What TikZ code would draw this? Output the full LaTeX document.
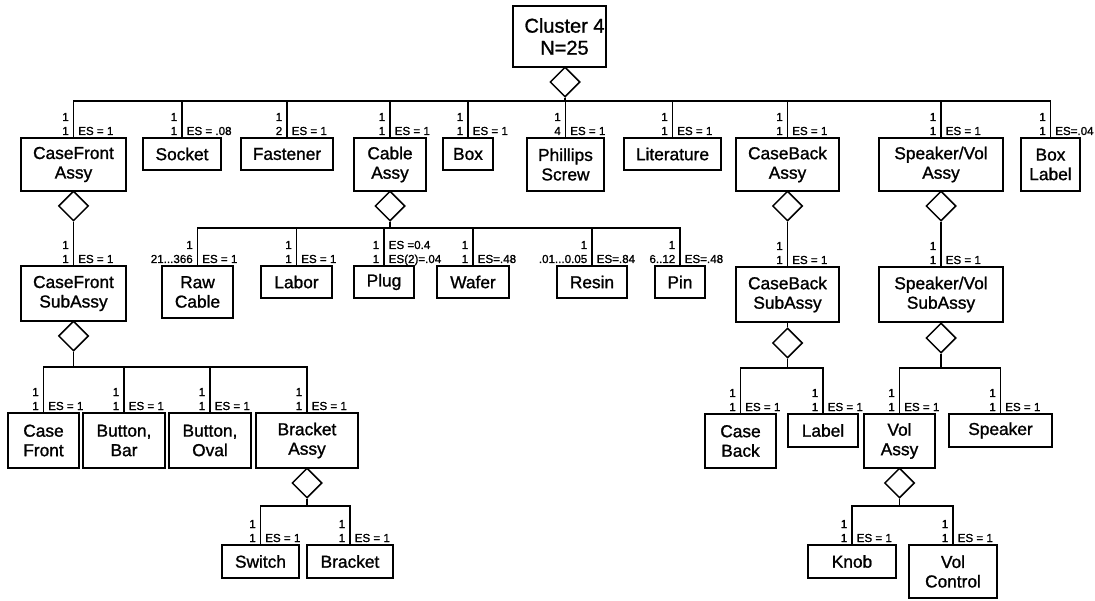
\documentclass[tikz,border=0pt]{standalone}
\usepackage{fontspec}
\setmainfont{Liberation Sans}
\newfontfamily\partfont[FakeBold=1.2]{Liberation Sans}
\newfontfamily\qtyfont[FakeBold=1.2]{Liberation Sans}
\usetikzlibrary{shapes.geometric}

% a part box given by its left, top, right and bottom edges
\newcommand\partbox[6]{%
  \node[part, minimum width={#4-#2}, minimum height={#5-#3}]
    (#1) at ({(#2+#4)/2},{(#3+#5)/2}) {#6};}
% quantity labels beside a branch line at x = #2, above a box whose top is #3
\newcommand\qtylabels[7]{%
  \node[qty, anchor=base east] (#1ul) at ({#2-4},{#3-17}) {#4};
  \node[qty, anchor=base east] (#1ll) at ({#2-4},{#3-3}) {#5};
  \node[qty, anchor=base west] (#1ur) at ({#2+4},{#3-17}) {#6};
  \node[qty, anchor=base west] (#1lr) at ({#2+4},{#3-3}) {#7};}

\begin{document}
\begin{tikzpicture}[x=1pt, y=-1pt, line width=1.5pt,
  part/.style={draw, align=center, inner sep=0pt,
    font=\partfont\fontsize{17.3}{19.5}\selectfont},
  rootbox/.style={draw, inner sep=0pt, minimum width=93pt, minimum height=61pt},
  roottext/.style={align=center, inner sep=0pt, font=\partfont\fontsize{20}{22}\selectfont},
  joint/.style={draw, diamond, inner sep=0pt, minimum width=30pt, minimum height=30pt},
  qty/.style={inner sep=0pt, font=\qtyfont\fontsize{11.6}{13}\selectfont}]

\fill[white] (0,0) rectangle (1095,601);
\useasboundingbox (0,0) rectangle (1095,601);

% ---- root -------------------------------------------------------------
\node[rootbox] (root) at (559.5,36.5) {};
\node[roottext] (rootlabel) at (564.5,36.5) {Cluster 4\\N=25};
\node[joint] (jroot) at (565,82) {};

% ---- first level ------------------------------------------------------
\partbox{cfa}{21}{138}{126}{191}{CaseFront\\Assy}
\partbox{sock}{143}{138}{221}{170}{Socket}
\partbox{fast}{241}{138}{333}{170}{Fastener}
\partbox{cab}{354}{138}{426}{191}{Cable\\Assy}
\partbox{box}{443}{138}{493}{170}{Box}
\partbox{phil}{527}{138}{604}{191}{Phillips\\Screw}
\partbox{lit}{624}{138}{721}{170}{Literature}
\partbox{cba}{736}{138}{839}{191}{CaseBack\\Assy}
\partbox{spa}{879}{138}{1003}{191}{Speaker/Vol\\Assy}
\partbox{bl}{1021}{138}{1080}{191}{Box\\Label}

\coordinate (bar0) at (0,101);
\draw (root.south -| jroot.north) -- (jroot.north);
\foreach \c in {cfa,sock,fast,cab,box,phil,lit,cba,spa,bl}
  \draw (jroot.south) -- (jroot.south |- bar0) -| (\c.north);

\qtylabels{cfa}{73.5}{138}{1}{1}{}{ES = 1}
\qtylabels{sock}{182}{138}{1}{1}{}{ES = .08}
\qtylabels{fast}{287}{138}{1}{2}{}{ES = 1}
\qtylabels{cab}{390}{138}{1}{1}{}{ES = 1}
\qtylabels{box}{468}{138}{1}{1}{}{ES = 1}
\qtylabels{phil}{565.5}{138}{1}{4}{}{ES = 1}
\qtylabels{lit}{672.5}{138}{1}{1}{}{ES = 1}
\qtylabels{cba}{787.5}{138}{1}{1}{}{ES = 1}
\qtylabels{spa}{941}{138}{1}{1}{}{ES = 1}
\qtylabels{bl}{1050.5}{138}{1}{1}{}{ES=.04}

% ---- cable assembly ---------------------------------------------------
\node[joint] (jcab) at (390,206) {};
\draw (cab.south) -- (jcab.north);
\partbox{raw}{162}{266}{233}{318}{Raw\\Cable}
\partbox{lab}{261}{266}{332}{298}{Labor}
\partbox{plug}{354}{266}{414}{298}{Plug}
\partbox{waf}{437}{266}{509}{298}{Wafer}
\partbox{res}{557}{266}{627}{298}{Resin}
\partbox{pin}{655}{266}{705}{298}{Pin}
\coordinate (barcab) at (0,228);
\foreach \c in {raw,lab,plug,waf,res,pin}
  \draw (jcab.south) -- (jcab.south |- barcab) -| (\c.north);
\qtylabels{raw}{197.5}{266}{1}{21...366}{}{ES = 1}
\qtylabels{lab}{296.5}{266}{1}{1}{}{ES = 1}
\qtylabels{plug}{384}{266}{1}{1}{ES =0.4}{ES(2)=.04}
\qtylabels{waf}{473}{266}{1}{1}{}{ES=.48}
\qtylabels{res}{592}{266}{1}{.01...0.05}{}{ES=.84}
\qtylabels{pin}{680}{266}{1}{6..12}{}{ES=.48}

% ---- case front -------------------------------------------------------
\node[joint] (jcfa) at (73.5,206) {};
\draw (cfa.south) -- (jcfa.north);
\partbox{cfs}{21}{266}{126}{321}{CaseFront\\SubAssy}
\draw (jcfa.south) -- (cfs.north);
\qtylabels{cfs}{73.5}{266}{1}{1}{}{ES = 1}

\node[joint] (jcfs) at (73.5,336) {};
\draw (cfs.south) -- (jcfs.north);
\partbox{cf}{8}{413}{79}{468}{Case\\Front}
\partbox{bb}{83}{413}{165}{468}{Button,\\Bar}
\partbox{bo}{169}{413}{251}{468}{Button,\\Oval}
\partbox{bra}{256}{413}{358}{468}{Bracket\\Assy}
\coordinate (barcfs) at (0,367);
\foreach \c in {cf,bb,bo,bra}
  \draw (jcfs.south) -- (jcfs.south |- barcfs) -| (\c.north);
\qtylabels{cf}{43.5}{413}{1}{1}{}{ES = 1}
\qtylabels{bb}{124}{413}{1}{1}{}{ES = 1}
\qtylabels{bo}{210}{413}{1}{1}{}{ES = 1}
\qtylabels{bra}{307}{413}{1}{1}{}{ES = 1}

\node[joint] (jbra) at (307,483) {};
\draw (bra.south) -- (jbra.north);
\partbox{sw}{222}{545}{299}{578}{Switch}
\partbox{brk}{307}{545}{393}{578}{Bracket}
\coordinate (barbra) at (0,506);
\foreach \c in {sw,brk}
  \draw (jbra.south) -- (jbra.south |- barbra) -| (\c.north);
\qtylabels{sw}{260.5}{545}{1}{1}{}{ES = 1}
\qtylabels{brk}{350}{545}{1}{1}{}{ES = 1}

% ---- case back --------------------------------------------------------
\node[joint] (jcba) at (787.5,206) {};
\draw (cba.south) -- (jcba.north);
\partbox{cbs}{736}{267}{839}{322}{CaseBack\\SubAssy}
\draw (jcba.south) -- (cbs.north);
\qtylabels{cbs}{787.5}{267}{1}{1}{}{ES = 1}

\node[joint] (jcbs) at (787.5,343) {};
\draw (cbs.south) -- (jcbs.north);
\partbox{cb}{705}{414}{776}{468}{Case\\Back}
\partbox{lbl}{788}{414}{858}{447}{Label}
\coordinate (barcbs) at (0,368);
\foreach \c in {cb,lbl}
  \draw (jcbs.south) -- (jcbs.south |- barcbs) -| (\c.north);
\qtylabels{cb}{740.5}{414}{1}{1}{}{ES = 1}
\qtylabels{lbl}{823}{414}{1}{1}{}{ES = 1}

% ---- speaker / volume -------------------------------------------------
\node[joint] (jspa) at (941,206) {};
\draw (spa.south) -- (jspa.north);
\partbox{sps}{879}{267}{1003}{322}{Speaker/Vol\\SubAssy}
\draw (jspa.south) -- (sps.north);
\qtylabels{sps}{941}{267}{1}{1}{}{ES = 1}

\node[joint] (jsps) at (941,338) {};
\draw (sps.south) -- (jsps.north);
\partbox{va}{864}{414}{935}{468}{Vol\\Assy}
\partbox{spk}{949}{414}{1052}{447}{Speaker}
\coordinate (barsps) at (0,368);
\foreach \c in {va,spk}
  \draw (jsps.south) -- (jsps.south |- barsps) -| (\c.north);
\qtylabels{va}{899.5}{414}{1}{1}{}{ES = 1}
\qtylabels{spk}{1000.5}{414}{1}{1}{}{ES = 1}

\node[joint] (jva) at (899.5,483) {};
\draw (va.south) -- (jva.north);
\partbox{knob}{808}{545}{896}{578}{Knob}
\partbox{vc}{909}{545}{997}{598}{Vol\\Control}
\coordinate (barva) at (0,506);
\foreach \c in {knob,vc}
  \draw (jva.south) -- (jva.south |- barva) -| (\c.north);
\qtylabels{knob}{852}{545}{1}{1}{}{ES = 1}
\qtylabels{vc}{953}{545}{1}{1}{}{ES = 1}

\end{tikzpicture}
\end{document}
